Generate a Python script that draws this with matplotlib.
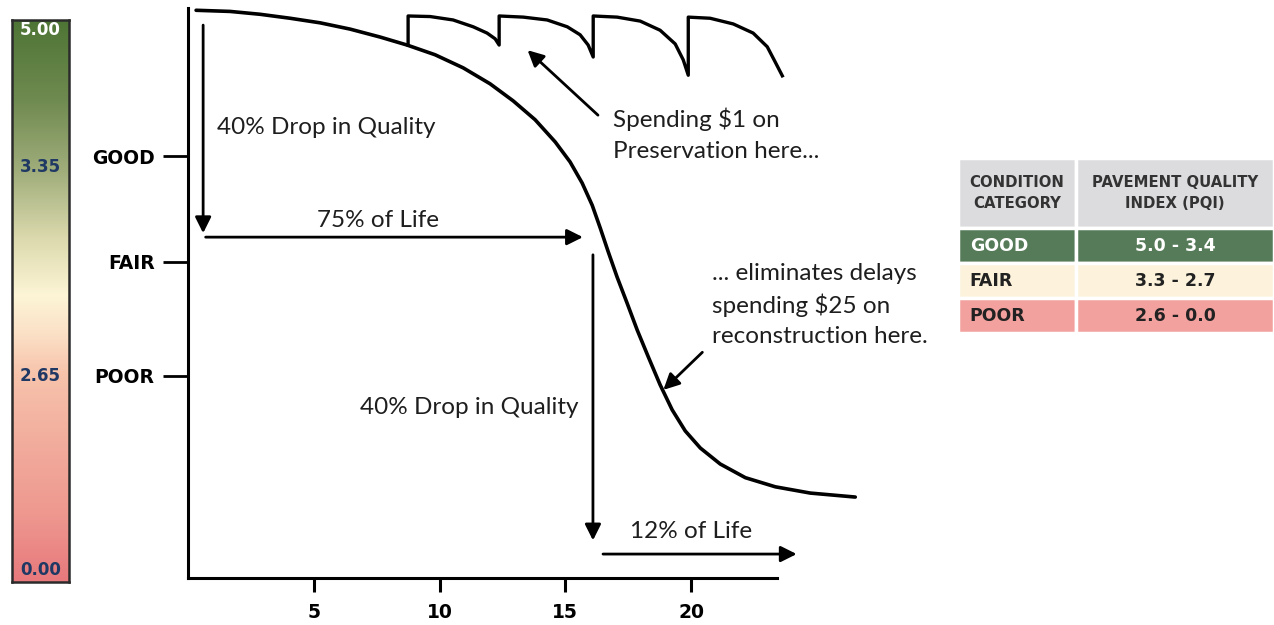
import numpy as np
import matplotlib
matplotlib.use("Agg")
import matplotlib.pyplot as plt
from matplotlib.colors import LinearSegmentedColormap

# deterioration curve: years vs. condition (% of new)
YEARS = [0.32, 1.67, 2.86, 4.06, 5.25, 6.44, 7.64, 8.71, 9.82, 10.94, 12.01,
         12.93, 13.80, 14.60, 15.19, 15.67, 16.07, 16.39, 16.71, 17.06, 17.46,
         17.86, 18.30, 18.77, 19.25, 19.77, 20.37, 21.16, 22.16, 23.35, 24.74,
         26.53]
CONDITION = [99.6, 99.4, 98.9, 98.2, 97.4, 96.3, 94.9, 93.5, 91.8, 89.5, 86.7,
             83.7, 80.4, 76.5, 73.0, 69.3, 65.4, 61.4, 57.2, 52.8, 48.2,
             43.5, 38.8, 33.9, 29.5, 25.8, 22.8, 20.0, 17.6, 16.0, 14.9,
             14.2]

# curve with a preservation treatment roughly every 3.7 years
PRES_YEARS = [8.75,
              8.75, 9.63, 10.54, 11.34, 11.89, 12.21, 12.37,
              12.37, 13.33, 14.28, 15.08, 15.59, 15.91, 16.11,
              16.11, 17.06, 17.98, 18.77, 19.37, 19.69, 19.89,
              19.89, 20.76, 21.68, 22.47, 23.03, 23.35, 23.63]
PRES_CONDITION = [93.5,
                  98.6, 98.5, 97.9, 96.7, 95.6, 94.6, 93.5,
                  98.6, 98.4, 97.9, 96.7, 95.3, 93.5, 91.4,
                  98.6, 98.4, 97.7, 96.1, 93.7, 90.9, 88.2,
                  98.4, 98.2, 97.2, 95.6, 93.2, 90.5, 88.1]

CATEGORIES = ["GOOD", "FAIR", "POOR"]
CATEGORY_LEVELS = [74, 55.5, 35.5]
YEAR_TICKS = [5, 10, 15, 20]

# PQI colour scale: labels and their height along the bar
PQI_LABELS = ["5.00", "3.35", "2.65", "0.00"]
PQI_LABEL_POS = [0.982, 0.738, 0.367, 0.021]
PQI_STOPS = [0.0, 0.12, 0.25, 0.37, 0.44, 0.51, 0.61, 0.73, 0.86, 1.0]
PQI_COLORS = ["#e8797c", "#ee9890", "#f2ad9d", "#f7c3ab", "#fbe0c6",
              "#fdf5d6", "#dcdaae", "#a1ae7c", "#6f8a50", "#4e7535"]

TABLE_HEADER = ["CONDITION\nCATEGORY", "PAVEMENT QUALITY\nINDEX (PQI)"]
TABLE_RANGES = ["5.0 - 3.4", "3.3 - 2.7", "2.6 - 0.0"]
ROW_COLORS = ["#567b59", "#fdf3dc", "#f3a19e"]
ROW_TEXT = ["white", "#222222", "#222222"]

TEXT_FONT = ["Lato", "DejaVu Sans"]

fig = plt.figure(figsize=(12.74, 6.25), dpi=100)

# ---- colour bar ----
cax = fig.add_axes([0.0094, 0.0688, 0.0447, 0.899])
cmap = LinearSegmentedColormap.from_list("pqi", list(zip(PQI_STOPS, PQI_COLORS)))
grad = np.linspace(0, 1, 256).reshape(-1, 1)
cax.imshow(grad, cmap=cmap, aspect="auto", origin="lower", extent=[0, 1, 0, 1])
cax.set_xlim(0, 1)
cax.set_ylim(0, 1)
cax.set_xticks([])
cax.set_yticks([])
for s in cax.spines.values():
    s.set_linewidth(1.8)
    s.set_color("#2b2b2b")
for i, (lab, pos) in enumerate(zip(PQI_LABELS, PQI_LABEL_POS)):
    cax.text(0.5, pos, lab, ha="center", va="center", fontsize=12,
             fontweight="bold", color="white" if i == 0 else "#1f3864")

# ---- main chart ----
ax = fig.add_axes([0.1476, 0.0752, 0.533, 0.912])
ax.set_xlim(0, 27)
ax.set_ylim(0, 100)
ax.plot(YEARS, CONDITION, color="black", lw=2.6, solid_capstyle="round",
        solid_joinstyle="round")
ax.plot(PRES_YEARS, PRES_CONDITION, color="black", lw=2.4,
        solid_joinstyle="round")

for s in ["top", "right"]:
    ax.spines[s].set_visible(False)
ax.spines["left"].set_linewidth(2.2)
ax.spines["bottom"].set_linewidth(2.2)
ax.spines["bottom"].set_bounds(0, 23.4)

ax.set_yticks(CATEGORY_LEVELS, CATEGORIES)
ax.set_xticks(YEAR_TICKS, [str(t) for t in YEAR_TICKS])
ax.tick_params(axis="y", length=18, width=2, pad=6, labelsize=13.5)
ax.tick_params(axis="x", length=10, width=2.2, pad=8, labelsize=13.5)
for lab in ax.get_xticklabels() + ax.get_yticklabels():
    lab.set_fontweight("bold")

arrow = dict(arrowstyle="-|>", color="black", lw=2, mutation_scale=24,
             shrinkA=0, shrinkB=0)
# first 40% drop over 75% of life
ax.annotate("", xy=(0.6, 60.5), xytext=(0.6, 97.0), arrowprops=arrow)
ax.annotate("", xy=(15.7, 59.8), xytext=(0.7, 59.8), arrowprops=arrow)
# second 40% drop over 12% of life
ax.annotate("", xy=(16.1, 6.6), xytext=(16.1, 56.7), arrowprops=arrow)
ax.annotate("", xy=(24.2, 4.2), xytext=(16.5, 4.2), arrowprops=arrow)
# pointers to the two callouts
ax.annotate("", xy=(13.5, 92.6), xytext=(16.3, 81.2), arrowprops=arrow)
ax.annotate("", xy=(18.9, 33.0), xytext=(20.45, 39.6), arrowprops=arrow)

txt = dict(fontsize=17.5, family=TEXT_FONT, color="#1e1e1e")
ax.text(1.15, 79.0, "40% Drop in Quality", ha="left", va="center", **txt)
ax.text(7.56, 62.8, "75% of Life", ha="center", va="center", **txt)
ax.text(11.2, 30.0, "40% Drop in Quality", ha="center", va="center", **txt)
ax.text(20.0, 8.2, "12% of Life", ha="center", va="center", **txt)
ax.text(16.9, 77.8, "Spending \\$1 on\nPreservation here...", ha="left",
        va="center", linespacing=1.6, **txt)
ax.text(20.85, 47.9, "... eliminates delays\nspending \\$25 on\nreconstruction here.",
        ha="left", va="center", linespacing=1.5, **txt)

# ---- condition table ----
tax = fig.add_axes([0.752, 0.467, 0.248, 0.28])
tax.axis("off")
cells = [[c, r] for c, r in zip(CATEGORIES, TABLE_RANGES)]
tbl = tax.table(cellText=cells, colLabels=TABLE_HEADER,
                colWidths=[0.373, 0.627], bbox=[0, 0, 1, 1])
tbl.auto_set_font_size(False)
for (r, c), cell in tbl.get_celld().items():
    cell.set_edgecolor("white")
    cell.set_linewidth(2.5)
    t = cell.get_text()
    t.set_fontweight("bold")
    if r == 0:
        cell.set_facecolor("#dcdcdf")
        cell.set_height(2.0)
        t.set_fontsize(10.7)
        t.set_color("#333333")
        t.set_linespacing(1.5)
        t.set_ha("center")
    else:
        cell.set_facecolor(ROW_COLORS[r - 1])
        cell.set_height(1.0)
        t.set_fontsize(12.5)
        t.set_color(ROW_TEXT[r - 1])
        if c == 0:
            cell._loc = "left"
            t.set_ha("left")
        else:
            cell._loc = "center"
            t.set_ha("center")

fig.savefig("out.png", dpi=100, facecolor="white")
